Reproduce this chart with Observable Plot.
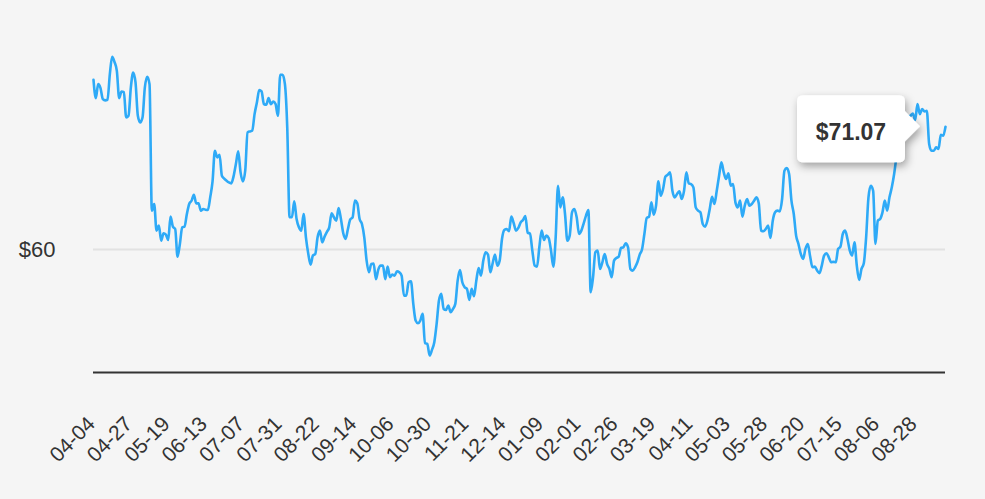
<!DOCTYPE html>
<html><head><meta charset="utf-8">
<script src="https://cdn.jsdelivr.net/npm/d3@7"></script>
<script src="https://cdn.jsdelivr.net/npm/@observablehq/plot@0.6"></script>
<style>
html,body{margin:0;padding:0;background:#f5f5f5;}
#chart{width:985px;height:499px;}
</style></head><body><div id="chart"></div>
<script>
// Daily closing prices, one per trading day (index 0 = 04-04)
const prices = [
75.30,73.65,74.91,74.55,73.56,73.45,73.50,75.81,77.37,76.90,
76.11,73.65,74.25,74.19,71.91,72.06,74.61,75.96,75.06,72.06,
71.46,71.91,74.61,75.57,74.91,63.51,64.11,61.71,62.16,60.81,
61.47,61.35,60.87,62.97,62.07,61.86,59.37,60.51,62.00,62.07,
63.21,64.11,64.40,64.95,64.17,64.17,63.51,63.66,63.60,63.57,
64.71,66.15,68.91,68.31,68.55,66.66,66.40,66.21,66.05,65.97,
66.60,67.71,68.85,66.96,66.15,67.11,70.56,70.65,70.71,72.21,
73.26,74.37,74.25,73.11,73.05,73.65,73.11,73.35,73.11,72.06,
75.75,75.75,74.91,71.01,62.91,62.91,64.35,62.76,62.01,61.71,
63.21,61.11,59.64,58.65,59.46,59.61,61.11,61.71,60.66,61.17,
61.60,62.01,63.27,62.91,62.61,63.75,62.76,61.47,60.96,61.86,
62.73,62.91,64.41,64.17,62.76,62.31,61.11,59.01,57.96,58.71,
58.74,57.33,58.20,58.56,58.56,57.33,58.47,57.51,57.75,57.66,
58.05,57.96,57.66,55.86,55.86,57.06,57.15,55.11,53.61,53.37,
53.61,54.21,51.57,51.51,50.46,50.97,51.66,53.31,55.41,56.01,
54.66,54.57,54.96,54.36,54.66,55.11,57.21,58.17,57.06,56.61,
56.46,55.47,56.46,55.80,57.21,58.35,57.66,59.01,59.76,59.55,
57.96,58.77,59.55,58.56,59.01,60.96,61.77,61.86,61.65,62.97,
62.40,61.71,61.95,62.46,62.67,63.03,61.53,61.44,59.91,58.56,
58.47,60.21,61.71,60.87,61.26,61.05,59.91,58.47,61.11,65.76,
63.81,64.71,63.21,60.81,61.26,63.36,63.66,62.91,61.41,61.71,
62.37,63.06,63.57,56.16,57.51,59.76,59.91,58.26,58.86,59.61,
58.71,58.26,57.51,59.01,59.25,59.37,60.15,60.21,60.57,60.21,
58.26,58.11,58.41,58.86,59.55,60.03,61.41,62.85,62.97,64.26,
63.15,63.96,66.15,64.86,65.46,66.57,66.75,66.96,65.31,64.71,
65.01,65.25,64.56,65.31,66.96,65.97,65.91,65.61,63.81,63.51,
63.36,62.31,62.07,62.61,63.66,64.77,64.11,65.31,66.66,67.86,
66.96,66.36,66.87,65.76,65.91,64.26,63.81,64.41,62.97,63.96,
64.56,63.96,64.11,64.41,64.71,64.17,61.71,61.65,61.86,62.16,
61.05,62.61,63.36,63.51,63.45,64.56,67.11,67.35,66.81,64.41,
63.21,61.26,60.51,59.61,59.16,60.06,60.51,59.40,58.41,58.47,
58.11,57.87,58.56,59.46,59.67,59.31,58.86,58.90,58.86,60.06,
60.27,61.41,61.71,60.96,59.91,59.46,60.66,58.56,57.27,58.26,
58.77,61.11,64.71,65.76,65.31,60.51,62.61,62.76,63.36,64.41,
63.51,64.71,65.61,66.81,68.31,69.05,69.81,70.70,71.50,72.00,
72.06,72.27,71.67,73.11,72.21,72.66,72.45,72.51,69.51,68.91,
68.91,69.21,69.06,70.35,70.26,71.07
];
const tickDays = [0,16,32,48,64,80,96,112,128,144,160,176,192,208,224,240,256,272,288,304,320,336,352];
const tickLabels = ["04-04","04-27","05-19","06-13","07-07","07-31","08-22","09-14","10-06","10-30","11-21","12-14",
                    "01-09","02-01","02-26","03-19","04-11","05-03","05-28","06-20","07-15","08-06","08-28"];
const gridPrices = [60];
const yDomain = [48.93, 78.93];

const font = "'Liberation Sans', Arial, Helvetica, sans-serif";
const chart = Plot.plot({
  width: 985, height: 499,
  marginLeft: 93, marginRight: 40, marginTop: 39, marginBottom: 127,
  style: {background: "#f5f5f5", fontFamily: font, color: "#333", overflow: "visible"},
  x: {domain: [0, prices.length - 1]},
  y: {domain: yDomain},
  marks: [
    Plot.ruleY(gridPrices, {stroke: "#e2e2e2", strokeWidth: 2}),
    Plot.axisY(gridPrices, {tickSize: 0, tickPadding: 38, fontSize: 22, tickFormat: d => "$" + d, label: null}),
    Plot.axisX(tickDays, {tickSize: 0, tickRotate: -45, tickPadding: 48, dx: -2, fontSize: 21,
      tickFormat: d => tickLabels[tickDays.indexOf(d)], label: null}),
    Plot.ruleY([yDomain[0]], {stroke: "#333", strokeWidth: 2}),
    Plot.lineY(prices, {x: (d, i) => i, y: d => d, stroke: "#2eaaf7", strokeWidth: 2.6, curve: "monotone-x"})
  ]
});
document.getElementById("chart").appendChild(chart);

// Tooltip callout for the last price
const last = prices.length - 1;
const px = chart.scale("x").apply(last), py = chart.scale("y").apply(prices[last]);
const svg = d3.select(chart);
const defs = svg.append("defs");
const f = defs.append("filter").attr("id", "tipshadow")
  .attr("x", "-30%").attr("y", "-40%").attr("width", "170%").attr("height", "190%");
f.append("feDropShadow").attr("dx", 2).attr("dy", 4).attr("stdDeviation", 4)
  .attr("flood-color", "#000").attr("flood-opacity", 0.35);
const tipX = px - 25;
const R = tipX - 15, L = R - 108, T = py - 31, B = py + 36, r = 6;
const path = `M${L + r},${T} H${R - r} Q${R},${T} ${R},${T + r} V${py - 15} L${tipX},${py} L${R},${py + 15} V${B - r} Q${R},${B} ${R - r},${B} H${L + r} Q${L},${B} ${L},${B - r} V${T + r} Q${L},${T} ${L + r},${T} Z`;
svg.append("path").attr("d", path).attr("fill", "#fff").attr("filter", "url(#tipshadow)");
svg.append("text").attr("x", (L + R) / 2).attr("y", py + 14)
  .attr("text-anchor", "middle").attr("font-family", font).attr("font-weight", "bold")
  .attr("font-size", 23).attr("fill", "#333")
  .text("$" + prices[last].toFixed(2));
</script>
</body></html>
